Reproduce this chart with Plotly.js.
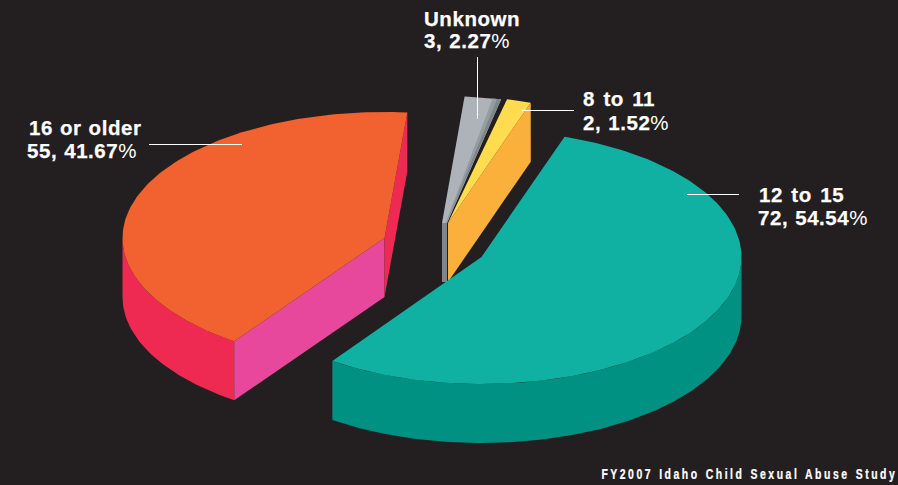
<!DOCTYPE html>
<html>
<head>
<meta charset="utf-8">
<script src="https://cdn.plot.ly/plotly-3.0.1.min.js"></script>
<style>
html,body{margin:0;padding:0;background:#231f20;}
#chart{width:898px;height:485px;}
.annotation text{letter-spacing:0.55px;word-spacing:0.8px;}
.annotation text tspan[style*="bold"]{stroke:#ffffff;stroke-width:0.25px;}
.annotation[data-index="2"] text,.annotation[data-index="4"] text{word-spacing:2.2px;}
.annotation[data-index="8"] text{letter-spacing:3.5px;word-spacing:1px;transform-box:fill-box;transform-origin:center center;transform:scaleX(0.72);}
</style>
</head>
<body>
<div id="chart"></div>
<script>
// ---- data ----
const categories = ["Unknown", "8 to 11", "12 to 15", "16 or older"];
const counts = [3, 2, 72, 55];
const percents = ["2.27", "1.52", "54.54", "41.67"];
const footer = "FY2007 Idaho Child Sexual Abuse Study";

// ---- styling ----
const topColors = ["#aeb3ba", "#ffdc4f", "#10b0a2", "#f26130"];
const cutColors = ["#7d868b", "#fbb03b", "#009182", "#e8489b"];
const farCutColors = ["#7d868b", "#fbb03b", "#009182", "#ee2a52"];
const rimColors = ["#7d868b", "#fbb03b", "#009182", "#ee2a52"];
const bg = "#231f20";

// ---- projection of the tilted, exploded pie ----
const hubX = [442, 448, 481.5, 384.5];
const hubY = [223, 223, 257, 238];
const radiusX = [259, 259, 260, 262];
const radiusY = [127, 127, 127, 126];
const depth = 59;
const startAngle = 5;

const total = counts.reduce((a, b) => a + b, 0);
function pt(i, deg) {
  const r = deg * Math.PI / 180;
  return [hubX[i] + radiusX[i] * Math.sin(r), hubY[i] - radiusY[i] * Math.cos(r)];
}
function arc(i, a0, a1) {
  const pts = [];
  const n = Math.max(2, Math.ceil(Math.abs(a1 - a0)));
  for (let k = 0; k <= n; k++) pts.push(pt(i, a0 + (a1 - a0) * k / n));
  return pts;
}
function poly(pts, color, name) {
  return {
    type: "scatter", mode: "lines", fill: "toself", fillcolor: color,
    x: pts.map(p => p[0]).concat(pts[0][0]),
    y: pts.map(p => p[1]).concat(pts[0][1]),
    line: {width: 0, color: color}, hoverinfo: "skip", name: name, showlegend: false
  };
}
const down = p => [p[0], p[1] + depth];

let cursor = startAngle;
const spans = counts.map(c => { const s = [cursor, cursor + 360 * c / total]; cursor = s[1]; return s; });

const traces = [];
categories.forEach((name, i) => {
  const [a0, a1] = spans[i];
  const hub = [hubX[i], hubY[i]];
  const first = pt(i, a0), last = pt(i, a1);
  if (i === 0) {
    const h2 = [hub[0] + 5, hub[1]];
    traces.push(poly([hub, h2, down(h2), down(hub)], cutColors[i], name));
    traces.push(poly([hub].concat(arc(i, a0, a1)).concat([h2]), topColors[i], name));
    const sA = pt(i, a1 - 0.9), sB = pt(i, a1 - 1.9);
    traces.push(poly([[hub[0] + 3.6, hub[1]], sB, sA, last, h2], "#959da2", name));
    traces.push(poly([[hub[0] + 4.2, hub[1]], sA, last, h2], cutColors[i], name));
    return;
  }
  if (i === 1) {
    traces.push(poly([hub, last, down(last), down(hub)], cutColors[i], name));
    traces.push(poly([hub].concat(arc(i, a0, a1)), topColors[i], name));
    return;
  }
  if (i === 2) {
    const rim = arc(i, Math.max(a0, 90), a1);
    traces.push(poly(rim.concat(rim.map(down).reverse()), rimColors[i], name));
  } else {
    const rim = arc(i, a0, 270);
    traces.push(poly(rim.concat(rim.map(down).reverse()), rimColors[i], name));
    traces.push(poly([hub, first, down(first), down(hub)], cutColors[i], name));
    traces.push(poly([hub, last, down(last), down(hub)], farCutColors[i], name));
  }
  traces.push(poly([hub].concat(arc(i, a0, a1)), topColors[i], name));
});

// ---- labels ----
const nameX = [424, 583, 759, 29];
const nameY = [18, 98, 194, 127];
const valueX = [424, 583, 758, 27];
const valueY = [40, 122, 217, 150];
const leaderX0 = [477.5, 522, 687, 149];
const leaderX1 = [477.5, 574, 739, 242];
const leaderY0 = [57, 110.5, 194.5, 144.5];
const leaderY1 = [119, 110.5, 194.5, 144.5];

const textFont = {family: "Liberation Sans, Arial, sans-serif", size: 20.5, color: "#ffffff"};
function label(x, y, text) {
  return {xref: "x", yref: "y", x: x, y: y, text: text, showarrow: false,
          xanchor: "left", yanchor: "middle", align: "left", font: textFont,
          borderpad: 0, borderwidth: 0};
}
const annotations = [];
categories.forEach((name, i) => {
  annotations.push(label(nameX[i], nameY[i], "<b>" + name + "</b>"));
  annotations.push(label(valueX[i], valueY[i], "<b>" + counts[i] + ", " + percents[i] + "</b>%"));
});
annotations.push({xref: "x", yref: "y", x: 749.5, y: 474, text: "<b>" + footer + "</b>",
  showarrow: false, xanchor: "center", yanchor: "middle", borderpad: 0,
  font: {family: "Liberation Sans, sans-serif", size: 14.5, color: "#ffffff"}});

const shapes = categories.map((_, i) => ({
  type: "line", xref: "x", yref: "y", layer: "above",
  x0: leaderX0[i], x1: leaderX1[i], y0: leaderY0[i], y1: leaderY1[i],
  line: {color: "#ffffff", width: 1}
}));

const layout = {
  width: 898, height: 485,
  margin: {l: 0, r: 0, t: 0, b: 0, pad: 0},
  paper_bgcolor: bg, plot_bgcolor: bg,
  xaxis: {range: [0, 898], visible: false, fixedrange: true},
  yaxis: {range: [485, 0], visible: false, fixedrange: true},
  showlegend: false, hovermode: false,
  annotations: annotations, shapes: shapes
};
Plotly.newPlot("chart", traces, layout, {displayModeBar: false, staticPlot: true});
</script>
</body>
</html>
